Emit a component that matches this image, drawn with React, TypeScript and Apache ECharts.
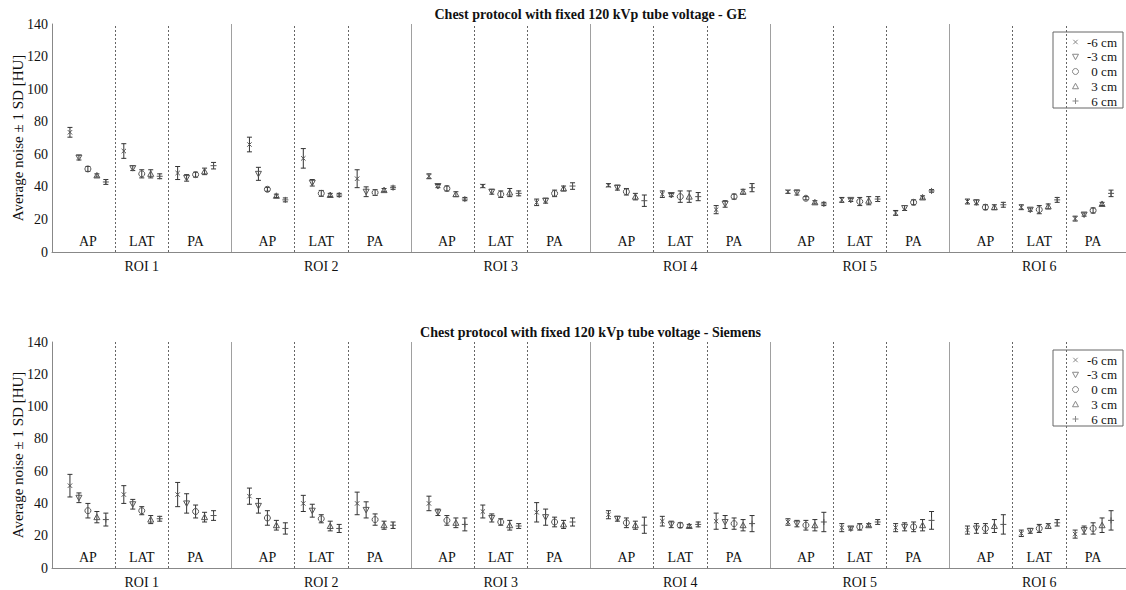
import React, { useEffect, useRef } from "react";
import * as echarts from "echarts";

const rois = ["ROI 1", "ROI 2", "ROI 3", "ROI 4", "ROI 5", "ROI 6"];
const views = ["AP", "LAT", "PA"];
const positions = ["-6 cm", "-3 cm", "0 cm", "3 cm", "6 cm"];
const shapes = ["cross", "triDown", "circle", "triUp", "plus"];
const yMin = 0;
const yMax = 140;
const yStep = 20;
const titles = [
  "Chest protocol with fixed 120 kVp tube voltage - GE",
  "Chest protocol with fixed 120 kVp tube voltage - Siemens",
];

// GE (order: ROI1 AP, LAT, PA, ROI2 AP, LAT, PA, ...)
const geM6 = [73.5, 62, 48.5, 66, 57.5, 45, 46.5, 40.5, 30.5, 41, 35.5, 26, 37, 32, 24, 31, 27.5, 20.5];
const geM6Sd = [3, 4.5, 4, 4.5, 6, 5.5, 1.5, 1, 2, 1, 2, 2.5, 1, 1.5, 1.5, 1.5, 1.5, 1.5];
const geM3 = [58, 51.5, 45.5, 48, 42.5, 37, 40.5, 37, 31.5, 39.5, 35, 29.5, 36.5, 32, 27, 30.5, 26, 23];
const geM3Sd = [1.5, 1.5, 2, 4, 2, 3, 1, 1.5, 1.5, 1.5, 1, 2, 1.5, 1, 1.5, 1.5, 1, 1];
const geZ = [51, 48, 47.5, 38.5, 36, 36.5, 39, 35.5, 36, 37, 34, 34, 33, 31, 30.5, 27.5, 26, 25.5];
const geZSd = [1.5, 2.5, 1.5, 1.2, 1.8, 1.8, 1.5, 2, 2, 2, 3.5, 1.5, 1, 2.5, 1.5, 1.5, 2.5, 1.5];
const geP3 = [47, 48, 49.5, 34.5, 35, 38, 35.5, 36.5, 39, 34, 34, 37, 30.5, 31.5, 33.5, 27.5, 28, 29.5];
const geP3Sd = [1, 2.5, 2, 1, 1, 1, 1.5, 2.5, 1.5, 2, 3.5, 1.5, 1, 2.5, 1, 1.5, 1.5, 1];
const geP6 = [43, 46.5, 53, 32, 35, 39.5, 32.5, 36, 40.5, 31.5, 34, 39.5, 29.5, 32.5, 37.5, 29, 32, 36];
const geP6Sd = [1.5, 1.5, 2, 1.2, 1, 1, 1, 1.5, 2, 3.5, 2.5, 2.5, 1, 1.5, 0.8, 1.5, 1.5, 2];

// Siemens
const siM6 = [51, 45.5, 45.5, 44.5, 40, 40, 40, 35, 34.5, 33, 29, 29, 28.5, 25, 25, 23.5, 21.5, 21];
const siM6Sd = [7, 5.5, 7.5, 5, 5, 7, 4.5, 4, 6, 2.5, 3, 5, 2, 2.5, 2.5, 2.5, 2, 2.5];
const siM3 = [43.5, 39.5, 40, 38.5, 35.5, 36, 34.5, 31, 31.5, 30.5, 27, 28.5, 27.5, 24.5, 25.5, 24.5, 23, 23.5];
const siM3Sd = [3, 3, 6, 4.5, 4, 5, 2, 2.5, 5, 1.5, 2, 4, 2, 1, 2.5, 3, 1.5, 2.5];
const siZ = [35.5, 35.5, 35, 31, 30.5, 30, 29.5, 28.5, 28.5, 28, 26.5, 27.5, 26.5, 25.5, 25.5, 24.5, 24.5, 24.5];
const siZSd = [4.5, 2.5, 4, 4.5, 2.5, 3.5, 3, 2, 3, 3, 1.5, 3.5, 3, 2, 3, 3, 2.5, 3.5];
const siP3 = [31.5, 30, 31.5, 26.5, 26, 26.5, 28, 26.5, 27, 26.5, 26, 26.5, 26.5, 26.5, 26.5, 26, 26, 26.5];
const siP3Sd = [3.5, 2.5, 3, 3, 3, 2.5, 3, 3, 2.5, 2.5, 1, 3.5, 3.5, 1, 3.5, 4, 1.5, 4.5];
const siP6 = [30, 30.5, 32.5, 24.5, 24.5, 26.5, 27, 26, 28.5, 26.5, 27, 27.5, 28.5, 28.5, 29.5, 27, 28, 29.5];
const siP6Sd = [4, 1.5, 3, 3.5, 2.5, 2, 4, 1.5, 2.5, 5, 1.5, 5, 6, 1.5, 5.5, 6, 2, 6];

const geSets = [[geM6, geM6Sd], [geM3, geM3Sd], [geZ, geZSd], [geP3, geP3Sd], [geP6, geP6Sd]];
const siSets = [[siM6, siM6Sd], [siM3, siM3Sd], [siZ, siZSd], [siP3, siP3Sd], [siP6, siP6Sd]];

const FONT = "'Liberation Serif', 'Times New Roman', serif";
const ROI_W = 20;
const VIEW_W = 6;

function xOf(groupIdx: number, posIdx: number) {
  const roi = Math.floor(groupIdx / 3);
  const v = groupIdx % 3;
  return roi * ROI_W + v * VIEW_W + 2 + posIdx;
}

function markerEls(shape: string, cx: number, cy: number, color = "#555") {
  const st = { fill: "none", stroke: color, lineWidth: 1 };
  const s = 3;
  if (shape === "cross")
    return [
      { type: "line", shape: { x1: cx - 2.2, y1: cy - 2.2, x2: cx + 2.2, y2: cy + 2.2 }, style: st },
      { type: "line", shape: { x1: cx - 2.2, y1: cy + 2.2, x2: cx + 2.2, y2: cy - 2.2 }, style: st },
    ];
  if (shape === "plus")
    return [
      { type: "line", shape: { x1: cx - s, y1: cy, x2: cx + s, y2: cy }, style: st },
      { type: "line", shape: { x1: cx, y1: cy - s, x2: cx, y2: cy + s }, style: st },
    ];
  if (shape === "circle") return [{ type: "circle", shape: { cx, cy, r: 3 }, style: st }];
  if (shape === "triDown")
    return [{ type: "polygon", shape: { points: [[cx - s, cy - 2.5], [cx + s, cy - 2.5], [cx, cy + 3]] }, style: st }];
  return [{ type: "polygon", shape: { points: [[cx - s, cy + 2.5], [cx + s, cy + 2.5], [cx, cy - 3]] }, style: st }];
}

function makeRender(shape: string) {
  return (params: any, api: any) => {
    const x = api.value(0);
    const m = api.value(1);
    const sd = api.value(2);
    const c = api.coord([x, m]);
    const t = api.coord([x, m + sd]);
    const b = api.coord([x, m - sd]);
    const cw = 2.5;
    const ls = { stroke: "#333", lineWidth: 1 };
    return {
      type: "group",
      children: [
        { type: "line", shape: { x1: c[0], y1: t[1], x2: c[0], y2: b[1] }, style: ls },
        { type: "line", shape: { x1: c[0] - cw, y1: t[1], x2: c[0] + cw, y2: t[1] }, style: ls },
        { type: "line", shape: { x1: c[0] - cw, y1: b[1], x2: c[0] + cw, y2: b[1] }, style: ls },
        ...markerEls(shape, c[0], c[1]),
      ],
    };
  };
}

const separatorLines: any[] = [];
for (let r = 0; r < rois.length; r++) {
  if (r > 0)
    separatorLines.push({ xAxis: r * ROI_W, lineStyle: { color: "#a0a0a0", type: "solid", width: 1 } });
  for (let v = 1; v < views.length; v++)
    separatorLines.push({ xAxis: r * ROI_W + v * VIEW_W + 1, lineStyle: { color: "#666", type: [2, 2], width: 1 } });
}

const viewLabelData: any[] = [];
for (let r = 0; r < rois.length; r++)
  for (let v = 0; v < views.length; v++) viewLabelData.push([r * ROI_W + v * VIEW_W + 4, 0, views[v]]);

function legendGraphic(top: number) {
  const left = 1053;
  const children: any[] = [
    { type: "rect", shape: { x: left, y: top, width: 70, height: 76 }, style: { fill: "#fff", stroke: "#666", lineWidth: 1 } },
  ];
  positions.forEach((p, i) => {
    const cy = top + 10 + i * 14.75;
    children.push(...markerEls(shapes[i], 1075.5, cy, "#888"));
    children.push({
      type: "text",
      style: { text: p, x: 1117, y: cy, align: "right", verticalAlign: "middle", font: `13px ${FONT}`, fill: "#111" },
    });
  });
  return { type: "group", z: 100, children };
}

export default function App() {
  const ref = useRef<HTMLDivElement>(null);
  useEffect(() => {
    if (!ref.current) return;
    const chart = echarts.init(ref.current, null, { renderer: "svg" });
    const grids = [
      { left: 52, top: 24, width: 1077, height: 228, outerBoundsMode: "none", containLabel: false },
      { left: 52, top: 342, width: 1077, height: 226, outerBoundsMode: "none", containLabel: false },
    ];
    const series: any[] = [];
    [geSets, siSets].forEach((sets, gi) => {
      sets.forEach((pair, pi) => {
        const [means, sds] = pair;
        series.push({
          type: "custom",
          name: positions[pi],
          xAxisIndex: gi,
          yAxisIndex: gi,
          renderItem: makeRender(shapes[pi]),
          data: means.map((m, i) => [xOf(i, pi), m, sds[i]]),
          z: 10,
        });
      });
      series.push({
        type: "custom",
        xAxisIndex: gi,
        yAxisIndex: gi,
        renderItem: (params: any, api: any) => {
          const c = api.coord([api.value(0), 0]);
          return {
            type: "text",
            style: {
              text: viewLabelData[params.dataIndex][2],
              x: c[0],
              y: c[1] - 10.5,
              align: "center",
              verticalAlign: "middle",
              font: `14px ${FONT}`,
              fill: "#111",
            },
          };
        },
        data: viewLabelData.map((d) => [d[0], d[1]]),
        markLine: {
          silent: true,
          symbol: ["none", "none"],
          label: { show: false },
          data: separatorLines,
        },
        z: 5,
      });
    });
    chart.setOption({
      animation: false,
      backgroundColor: "#fff",
      textStyle: { fontFamily: FONT },
      title: titles.map((t, i) => ({
        text: t,
        left: 590.5,
        textAlign: "center",
        top: i === 0 ? 7 : 325,
        padding: 0,
        textStyle: { fontFamily: FONT, fontSize: 14, fontWeight: "bold", color: "#111" },
      })),
      grid: grids,
      xAxis: grids.map((_, i) => ({
        type: "value",
        gridIndex: i,
        min: 0,
        max: rois.length * ROI_W,
        interval: ROI_W / 2,
        axisLine: { show: true, lineStyle: { color: "#888", width: 1 } },
        axisTick: { show: false },
        splitLine: { show: false },
        axisLabel: {
          margin: 7,
          fontFamily: FONT,
          fontSize: 14,
          color: "#111",
          showMinLabel: true,
          showMaxLabel: true,
          formatter: (v: number) => (v % ROI_W === ROI_W / 2 ? rois[(v - ROI_W / 2) / ROI_W] : ""),
        },
      })),
      yAxis: grids.map((_, i) => ({
        type: "value",
        gridIndex: i,
        min: yMin,
        max: yMax,
        interval: yStep,
        name: "Average noise ± 1 SD [HU]",
        nameLocation: "middle",
        nameGap: 27,
        nameMoveOverlap: false,
        nameRotate: 90,
        nameTextStyle: { fontFamily: FONT, fontSize: 15, color: "#111" },
        axisLine: { show: true, lineStyle: { color: "#888", width: 1 } },
        axisTick: { show: false },
        splitLine: { show: false },
        axisLabel: { margin: 4, fontFamily: FONT, fontSize: 14, color: "#111" },
      })),
      graphic: [legendGraphic(32), legendGraphic(350)],
      series,
    });
    return () => chart.dispose();
  }, []);
  return (
    <div
      ref={ref}
      style={{ position: "fixed", left: 0, top: 0, width: 1126, height: 590, background: "#fff" }}
    />
  );
}
